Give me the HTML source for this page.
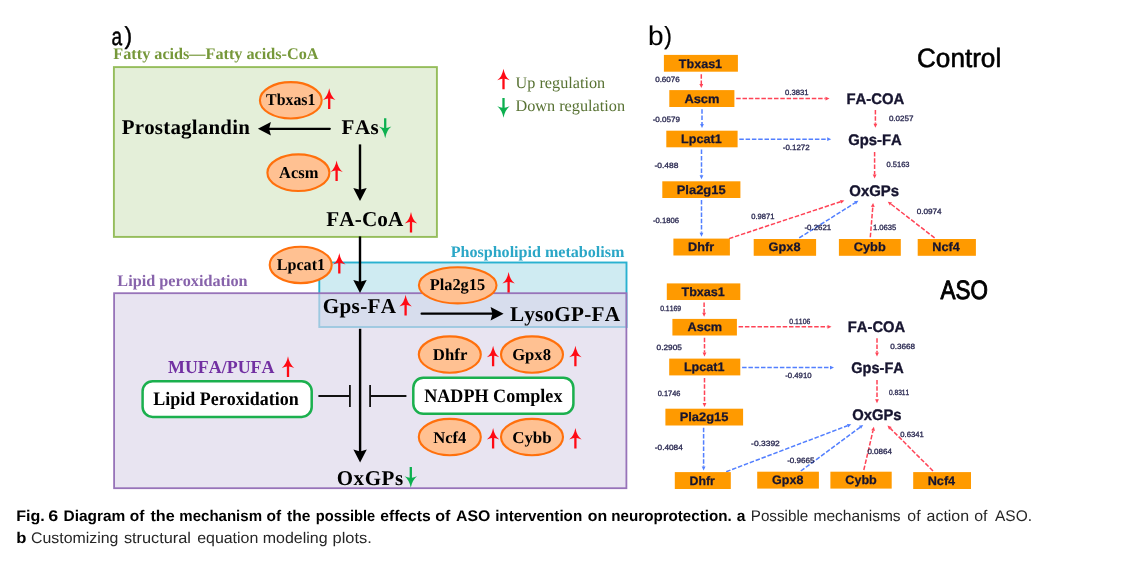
<!DOCTYPE html>
<html lang="en">
<head>
<meta charset="utf-8">
<title>Fig. 6 Diagram of the mechanism of the possible effects of ASO intervention on neuroprotection</title>
<style>
html,body{margin:0;padding:0;background:#fff;}
body{width:1145px;height:568px;overflow:hidden;}
svg{display:block;}
text{white-space:pre;font-kerning:none;font-variant-ligatures:none;text-rendering:geometricPrecision;}
</style>
</head>
<body>
<svg width="1145" height="568" viewBox="0 0 1145 568">
<defs><filter id="soft" x="0" y="0" width="1145" height="568" filterUnits="userSpaceOnUse" color-interpolation-filters="sRGB"><feGaussianBlur stdDeviation="0.5"/></filter></defs>
<g filter="url(#soft)">
<rect x="-5" y="-5" width="1155" height="578" fill="#ffffff"/>
<rect x="113.9" y="67.1" width="323.0" height="169.8" fill="#e4efd9" stroke="#95bd5b" stroke-width="1.9"/>
<rect x="319.3" y="262.5" width="307.2" height="64.5" fill="#cfebf2" stroke="#29b1d0" stroke-width="1.9"/>
<rect x="114.1" y="293.2" width="512.3" height="195.0" fill="#dcd5e9" fill-opacity="0.65" stroke="none"/>
<rect x="114.1" y="293.2" width="512.3" height="195.0" fill="none" stroke="#9773b9" stroke-width="1.8"/>
<text transform="translate(111.44 44.95) scale(0.7584 1)" font-family='"Liberation Sans", sans-serif' font-weight="normal" font-size="25.09" fill="#000" stroke="#000" stroke-width="0.5" stroke-linejoin="round">a</text><text transform="translate(124.38 43.53) scale(0.9357 1)" font-family='"Liberation Sans", sans-serif' font-weight="normal" font-size="24.6" fill="#000" stroke="#000" stroke-width="0.45" stroke-linejoin="round">)</text>
<text transform="translate(113.36 59.00) scale(1.0004 1)" font-family='"Liberation Serif", serif' font-weight="bold" font-size="16.2" fill="#76983a">Fatty acids—Fatty acids-CoA</text>
<text transform="translate(117.36 286.00) scale(1.0017 1)" font-family='"Liberation Serif", serif' font-weight="bold" font-size="16.2" fill="#8763ab">Lipid peroxidation</text>
<text transform="translate(450.66 256.80) scale(1.0049 1)" font-family='"Liberation Serif", serif' font-weight="bold" font-size="16" fill="#2ba7c7">Phospholipid metabolism</text>
<text transform="translate(168.03 372.80) scale(0.9846 1)" font-family='"Liberation Serif", serif' font-weight="bold" font-size="18.2" fill="#7230a2">MUFA/PUFA</text>
<text transform="translate(515.58 87.70) scale(1.0011 1)" font-family='"Liberation Serif", serif' font-weight="normal" font-size="16.2" fill="#587233">Up regulation</text>
<text transform="translate(515.41 110.80) scale(1.0037 1)" font-family='"Liberation Serif", serif' font-weight="normal" font-size="16.2" fill="#587233">Down regulation</text>
<line x1="329.8" y1="128.8" x2="268.3" y2="128.8" stroke="#000" stroke-width="2.2" stroke-linecap="round"/>
<path d="M257.9 128.8 L270.9 122.1 L269.1 128.8 L270.9 135.5 Z" fill="#000"/>
<line x1="360.0" y1="144.4" x2="360.0" y2="190.6" stroke="#000" stroke-width="2.4"/>
<path d="M360.0 201.0 L353.3 188.0 L360.0 189.8 L366.7 188.0 Z" fill="#000"/>
<line x1="360.0" y1="236.4" x2="360.0" y2="282.6" stroke="#000" stroke-width="2.4"/>
<path d="M360.0 293.0 L353.3 280.0 L360.0 281.8 L366.7 280.0 Z" fill="#000"/>
<line x1="421.6" y1="313.7" x2="493.2" y2="313.7" stroke="#000" stroke-width="2.2" stroke-linecap="round"/>
<path d="M503.6 313.7 L490.6 307.0 L492.4 313.7 L490.6 320.4 Z" fill="#000"/>
<line x1="360.1" y1="328.8" x2="360.1" y2="452.2" stroke="#000" stroke-width="2.4"/>
<path d="M360.1 462.6 L353.4 449.6 L360.1 451.4 L366.8 449.6 Z" fill="#000"/>
<path d="M318.4 396 H349.9 M349.9 385.1 V407.1 M370.1 385.1 V407.1 M370.1 396 H406.4" stroke="#111" stroke-width="1.8" fill="none"/>
<text x="121.69" y="133.50" letter-spacing="0.227" font-family='"Liberation Serif", serif' font-weight="bold" font-size="20.9" fill="#000">Prostaglandin</text>
<text x="341.58" y="133.50" letter-spacing="0.510" font-family='"Liberation Serif", serif' font-weight="bold" font-size="21" fill="#000">FAs</text>
<text x="326.28" y="225.80" letter-spacing="0.120" font-family='"Liberation Serif", serif' font-weight="bold" font-size="21.2" fill="#000">FA-CoA</text>
<text x="322.74" y="312.90" letter-spacing="0.300" font-family='"Liberation Serif", serif' font-weight="bold" font-size="21.2" fill="#000">Gps-FA</text>
<text x="509.88" y="320.80" letter-spacing="0.224" font-family='"Liberation Serif", serif' font-weight="bold" font-size="21.2" fill="#000">LysoGP-FA</text>
<text x="336.65" y="484.70" letter-spacing="0.579" font-family='"Liberation Serif", serif' font-weight="bold" font-size="21" fill="#000">OxGPs</text>
<rect x="142.6" y="381.3" width="169.1" height="35.6" rx="10" ry="10" fill="#fff" stroke="#1bb04e" stroke-width="2.5"/>
<rect x="413.3" y="377.8" width="160.1" height="36.0" rx="10" ry="10" fill="#fff" stroke="#1bb04e" stroke-width="2.5"/>
<text transform="translate(153.33 405.10) scale(0.9462 1)" font-family='"Liberation Serif", serif' font-weight="bold" font-size="19" fill="#000">Lipid Peroxidation</text>
<text transform="translate(424.24 402.20) scale(0.9523 1)" font-family='"Liberation Serif", serif' font-weight="bold" font-size="19" fill="#000">NADPH Complex</text>
<ellipse cx="290.8" cy="100.35" rx="30.9" ry="18.2" fill="#ffc192" stroke="#ff700c" stroke-width="2.1"/>
<text transform="translate(266.06 105.30) scale(0.9555 1)" font-family='"Liberation Serif", serif' font-weight="bold" font-size="16.6" fill="#000">Tbxas1</text>
<ellipse cx="298.4" cy="172.7" rx="31.0" ry="18.3" fill="#ffc192" stroke="#ff700c" stroke-width="2.1"/>
<text transform="translate(279.04 178.10) scale(0.9930 1)" font-family='"Liberation Serif", serif' font-weight="bold" font-size="16.6" fill="#000">Acsm</text>
<ellipse cx="300.7" cy="264.9" rx="31.0" ry="18.2" fill="#ffc192" stroke="#ff700c" stroke-width="2.1"/>
<text transform="translate(276.66 270.20) scale(0.9729 1)" font-family='"Liberation Serif", serif' font-weight="bold" font-size="16.6" fill="#000">Lpcat1</text>
<ellipse cx="457.7" cy="285.3" rx="38.8" ry="18.1" fill="#ffc192" stroke="#ff700c" stroke-width="2.1"/>
<text transform="translate(429.65 290.40) scale(0.9866 1)" font-family='"Liberation Serif", serif' font-weight="bold" font-size="16.6" fill="#000">Pla2g15</text>
<ellipse cx="449.8" cy="354.6" rx="31.0" ry="18.2" fill="#ffc192" stroke="#ff700c" stroke-width="2.1"/>
<text transform="translate(432.85 360.30) scale(1.0110 1)" font-family='"Liberation Serif", serif' font-weight="bold" font-size="16.6" fill="#000">Dhfr</text>
<ellipse cx="532.0" cy="354.6" rx="31.0" ry="18.2" fill="#ffc192" stroke="#ff700c" stroke-width="2.1"/>
<text transform="translate(512.17 360.30) scale(1.0013 1)" font-family='"Liberation Serif", serif' font-weight="bold" font-size="16.6" fill="#000">Gpx8</text>
<ellipse cx="449.8" cy="437.1" rx="31.0" ry="18.2" fill="#ffc192" stroke="#ff700c" stroke-width="2.1"/>
<text transform="translate(433.27 442.50) scale(0.9989 1)" font-family='"Liberation Serif", serif' font-weight="bold" font-size="16.6" fill="#000">Ncf4</text>
<ellipse cx="532.0" cy="437.1" rx="31.0" ry="18.2" fill="#ffc192" stroke="#ff700c" stroke-width="2.1"/>
<text transform="translate(512.15 442.50) scale(1.0219 1)" font-family='"Liberation Serif", serif' font-weight="bold" font-size="16.6" fill="#000">Cybb</text>
<path transform="translate(329.2 88.6)" d="M0 -0.3 Q1.4 7.6 6.2 11.3 Q3 10.1 1.15 9.8 L1.15 20.3 L-1.15 20.3 L-1.15 9.8 Q-3 10.1 -6.2 11.3 Q-1.4 7.6 0 -0.3 Z" fill="#ff0a14"/>
<path transform="translate(336.6 160.8)" d="M0 -0.3 Q1.4 7.6 6.2 11.3 Q3 10.1 1.15 9.8 L1.15 20.3 L-1.15 20.3 L-1.15 9.8 Q-3 10.1 -6.2 11.3 Q-1.4 7.6 0 -0.3 Z" fill="#ff0a14"/>
<path transform="translate(411.0 212.3)" d="M0 -0.3 Q1.4 7.6 6.2 11.3 Q3 10.1 1.15 9.8 L1.15 20.3 L-1.15 20.3 L-1.15 9.8 Q-3 10.1 -6.2 11.3 Q-1.4 7.6 0 -0.3 Z" fill="#ff0a14"/>
<path transform="translate(339.3 253.3)" d="M0 -0.3 Q1.4 7.6 6.2 11.3 Q3 10.1 1.15 9.8 L1.15 20.3 L-1.15 20.3 L-1.15 9.8 Q-3 10.1 -6.2 11.3 Q-1.4 7.6 0 -0.3 Z" fill="#ff0a14"/>
<path transform="translate(508.6 272.3)" d="M0 -0.3 Q1.4 7.6 6.2 11.3 Q3 10.1 1.15 9.8 L1.15 20.3 L-1.15 20.3 L-1.15 9.8 Q-3 10.1 -6.2 11.3 Q-1.4 7.6 0 -0.3 Z" fill="#ff0a14"/>
<path transform="translate(405.6 295.1)" d="M0 -0.3 Q1.4 7.6 6.2 11.3 Q3 10.1 1.15 9.8 L1.15 20.3 L-1.15 20.3 L-1.15 9.8 Q-3 10.1 -6.2 11.3 Q-1.4 7.6 0 -0.3 Z" fill="#ff0a14"/>
<path transform="translate(288.0 356.6)" d="M0 -0.3 Q1.4 7.6 6.2 11.3 Q3 10.1 1.15 9.8 L1.15 20.3 L-1.15 20.3 L-1.15 9.8 Q-3 10.1 -6.2 11.3 Q-1.4 7.6 0 -0.3 Z" fill="#ff0a14"/>
<path transform="translate(493.1 346.0)" d="M0 -0.3 Q1.4 7.6 6.2 11.3 Q3 10.1 1.15 9.8 L1.15 20.3 L-1.15 20.3 L-1.15 9.8 Q-3 10.1 -6.2 11.3 Q-1.4 7.6 0 -0.3 Z" fill="#ff0a14"/>
<path transform="translate(575.4 346.0)" d="M0 -0.3 Q1.4 7.6 6.2 11.3 Q3 10.1 1.15 9.8 L1.15 20.3 L-1.15 20.3 L-1.15 9.8 Q-3 10.1 -6.2 11.3 Q-1.4 7.6 0 -0.3 Z" fill="#ff0a14"/>
<path transform="translate(493.1 428.2)" d="M0 -0.3 Q1.4 7.6 6.2 11.3 Q3 10.1 1.15 9.8 L1.15 20.3 L-1.15 20.3 L-1.15 9.8 Q-3 10.1 -6.2 11.3 Q-1.4 7.6 0 -0.3 Z" fill="#ff0a14"/>
<path transform="translate(575.4 428.2)" d="M0 -0.3 Q1.4 7.6 6.2 11.3 Q3 10.1 1.15 9.8 L1.15 20.3 L-1.15 20.3 L-1.15 9.8 Q-3 10.1 -6.2 11.3 Q-1.4 7.6 0 -0.3 Z" fill="#ff0a14"/>
<path transform="translate(503.5 69.0)" d="M0 -0.3 Q1.4 7.6 6.2 11.3 Q3 10.1 1.15 9.8 L1.15 20.3 L-1.15 20.3 L-1.15 9.8 Q-3 10.1 -6.2 11.3 Q-1.4 7.6 0 -0.3 Z" fill="#ff0a14"/>
<path transform="translate(385.2 137.9) scale(1 -1)" d="M0 -0.3 Q1.4 7.6 6.2 11.3 Q3 10.1 1.15 9.8 L1.15 19.6 L-1.15 19.6 L-1.15 9.8 Q-3 10.1 -6.2 11.3 Q-1.4 7.6 0 -0.3 Z" fill="#0cb04f"/>
<path transform="translate(410.8 487.5) scale(1 -1)" d="M0 -0.3 Q1.4 7.6 6.2 11.3 Q3 10.1 1.15 9.8 L1.15 20.5 L-1.15 20.5 L-1.15 9.8 Q-3 10.1 -6.2 11.3 Q-1.4 7.6 0 -0.3 Z" fill="#0cb04f"/>
<path transform="translate(503.5 117.5) scale(1 -1)" d="M0 -0.3 Q1.4 7.6 6.2 11.3 Q3 10.1 1.15 9.8 L1.15 19.6 L-1.15 19.6 L-1.15 9.8 Q-3 10.1 -6.2 11.3 Q-1.4 7.6 0 -0.3 Z" fill="#0cb04f"/>
<text transform="translate(648.08 45.23) scale(1.0344 1)" font-family='"Liberation Sans", sans-serif' font-weight="normal" font-size="27.07" fill="#000" stroke="#000" stroke-width="0.12" stroke-linejoin="round">b</text><text transform="translate(664.18 43.59) scale(0.9278 1)" font-family='"Liberation Sans", sans-serif' font-weight="normal" font-size="24.81" fill="#000" stroke="#000" stroke-width="0.25" stroke-linejoin="round">)</text>
<text transform="translate(916.99 67.20) scale(0.9856 1)" font-family='"Liberation Sans", sans-serif' font-weight="normal" font-size="26.5" fill="#000" stroke="#000" stroke-width="0.6" stroke-linejoin="round">Control</text>
<text transform="translate(940.60 299.20) scale(0.8463 1)" font-family='"Liberation Sans", sans-serif' font-weight="normal" font-size="26.5" fill="#000" stroke="#000" stroke-width="0.95" stroke-linejoin="round">ASO</text>
<line x1="701.3" y1="74.2" x2="701.3" y2="84.1" stroke="#ff4356" stroke-width="1.5" stroke-dasharray="4.5 1.8"/>
<path d="M701.3 88.1 L699.4 84.1 L703.2 84.1 Z" fill="#ff4356"/>
<line x1="736.2" y1="98.6" x2="825.5" y2="98.6" stroke="#ff4356" stroke-width="1.5" stroke-dasharray="4.5 1.8"/>
<path d="M829.5 98.6 L825.5 100.5 L825.5 96.7 Z" fill="#ff4356"/>
<line x1="702.0" y1="109.3" x2="702.0" y2="124.1" stroke="#527fff" stroke-width="1.5" stroke-dasharray="4.5 1.8"/>
<path d="M702.0 128.1 L700.1 124.1 L703.9 124.1 Z" fill="#527fff"/>
<line x1="739.3" y1="139.2" x2="827.2" y2="139.2" stroke="#527fff" stroke-width="1.5" stroke-dasharray="4.5 1.8"/>
<path d="M831.2 139.2 L827.2 141.1 L827.2 137.3 Z" fill="#527fff"/>
<line x1="701.5" y1="149.6" x2="701.5" y2="175.2" stroke="#527fff" stroke-width="1.5" stroke-dasharray="4.5 1.8"/>
<path d="M701.5 179.2 L699.6 175.2 L703.4 175.2 Z" fill="#527fff"/>
<line x1="701.5" y1="199.9" x2="701.5" y2="232.7" stroke="#527fff" stroke-width="1.5" stroke-dasharray="4.5 1.8"/>
<path d="M701.5 236.7 L699.6 232.7 L703.4 232.7 Z" fill="#527fff"/>
<line x1="875.4" y1="109.9" x2="875.4" y2="123.7" stroke="#ff4356" stroke-width="1.5" stroke-dasharray="4.5 1.8"/>
<path d="M875.4 127.7 L873.5 123.7 L877.3 123.7 Z" fill="#ff4356"/>
<line x1="874.6" y1="152.0" x2="874.6" y2="174.5" stroke="#ff4356" stroke-width="1.5" stroke-dasharray="4.5 1.8"/>
<path d="M874.6 178.5 L872.7 174.5 L876.5 174.5 Z" fill="#ff4356"/>
<line x1="729.0" y1="238.6" x2="840.6" y2="201.7" stroke="#ff4356" stroke-width="1.5" stroke-dasharray="4.5 1.8"/>
<path d="M844.4 200.4 L841.2 203.5 L840.0 199.9 Z" fill="#ff4356"/>
<line x1="799.2" y1="237.9" x2="855.0" y2="202.9" stroke="#527fff" stroke-width="1.5" stroke-dasharray="4.5 1.8"/>
<path d="M858.4 200.7 L856.0 204.5 L854.0 201.3 Z" fill="#527fff"/>
<line x1="870.3" y1="237.2" x2="872.8" y2="206.9" stroke="#ff4356" stroke-width="1.5" stroke-dasharray="4.5 1.8"/>
<path d="M873.1 202.9 L874.7 207.0 L870.9 206.7 Z" fill="#ff4356"/>
<line x1="934.6" y1="237.9" x2="891.0" y2="204.1" stroke="#ff4356" stroke-width="1.5" stroke-dasharray="4.5 1.8"/>
<path d="M887.8 201.7 L892.1 202.6 L889.8 205.6 Z" fill="#ff4356"/>
<rect x="663.9" y="54.9" width="74.0" height="16.8" fill="#ff9a00"/>
<text transform="translate(678.87 67.55) scale(1.0195 1)" font-family='"Liberation Sans", sans-serif' font-weight="bold" font-size="12.3" fill="#16142f" stroke="#16142f" stroke-width="0.25" stroke-linejoin="round">Tbxas1</text>
<rect x="669.3" y="90.1" width="65.1" height="16.9" fill="#ff9a00"/>
<text transform="translate(684.38 103.15) scale(1.0460 1)" font-family='"Liberation Sans", sans-serif' font-weight="bold" font-size="12.3" fill="#16142f" stroke="#16142f" stroke-width="0.25" stroke-linejoin="round">Ascm</text>
<rect x="666.3" y="130.7" width="71.3" height="16.6" fill="#ff9a00"/>
<text transform="translate(681.08 142.65) scale(1.0260 1)" font-family='"Liberation Sans", sans-serif' font-weight="bold" font-size="12.3" fill="#16142f" stroke="#16142f" stroke-width="0.25" stroke-linejoin="round">Lpcat1</text>
<rect x="662.3" y="181.3" width="78.1" height="16.7" fill="#ff9a00"/>
<text transform="translate(676.76 193.75) scale(1.0502 1)" font-family='"Liberation Sans", sans-serif' font-weight="bold" font-size="12.3" fill="#16142f" stroke="#16142f" stroke-width="0.25" stroke-linejoin="round">Pla2g15</text>
<rect x="673.4" y="238.6" width="56.5" height="16.9" fill="#ff9a00"/>
<text transform="translate(688.08 251.25) scale(1.0291 1)" font-family='"Liberation Sans", sans-serif' font-weight="bold" font-size="12.3" fill="#16142f" stroke="#16142f" stroke-width="0.25" stroke-linejoin="round">Dhfr</text>
<rect x="753.7" y="239.0" width="62.4" height="16.8" fill="#ff9a00"/>
<text transform="translate(768.59 251.25) scale(1.0372 1)" font-family='"Liberation Sans", sans-serif' font-weight="bold" font-size="12.3" fill="#16142f" stroke="#16142f" stroke-width="0.25" stroke-linejoin="round">Gpx8</text>
<rect x="838.9" y="239.0" width="61.9" height="16.8" fill="#ff9a00"/>
<text transform="translate(853.79 251.25) scale(1.0369 1)" font-family='"Liberation Sans", sans-serif' font-weight="bold" font-size="12.3" fill="#16142f" stroke="#16142f" stroke-width="0.25" stroke-linejoin="round">Cybb</text>
<rect x="917.7" y="239.0" width="58.2" height="16.8" fill="#ff9a00"/>
<text transform="translate(932.27 251.25) scale(1.0323 1)" font-family='"Liberation Sans", sans-serif' font-weight="bold" font-size="12.3" fill="#16142f" stroke="#16142f" stroke-width="0.25" stroke-linejoin="round">Ncf4</text>
<text transform="translate(846.43 103.50) scale(0.9668 1)" font-family='"Liberation Sans", sans-serif' font-weight="bold" font-size="15.4" fill="#16142f" stroke="#16142f" stroke-width="0.35" stroke-linejoin="round">FA-COA</text>
<text transform="translate(848.21 145.40) scale(0.9617 1)" font-family='"Liberation Sans", sans-serif' font-weight="bold" font-size="15.4" fill="#16142f" stroke="#16142f" stroke-width="0.35" stroke-linejoin="round">Gps-FA</text>
<text transform="translate(849.30 195.50) scale(0.9695 1)" font-family='"Liberation Sans", sans-serif' font-weight="bold" font-size="15.4" fill="#16142f" stroke="#16142f" stroke-width="0.35" stroke-linejoin="round">OxGPs</text>
<text transform="translate(655.18 82.45) scale(1.0571 1)" font-family='"Liberation Sans", sans-serif' font-weight="normal" font-size="7.6" fill="#2b2a52" stroke="#2b2a52" stroke-width="0.32" stroke-linejoin="round">0.6076</text>
<text transform="translate(785.09 94.65) scale(1.0101 1)" font-family='"Liberation Sans", sans-serif' font-weight="normal" font-size="7.6" fill="#2b2a52" stroke="#2b2a52" stroke-width="0.32" stroke-linejoin="round">0.3831</text>
<text transform="translate(652.64 122.15) scale(1.0646 1)" font-family='"Liberation Sans", sans-serif' font-weight="normal" font-size="7.6" fill="#2b2a52" stroke="#2b2a52" stroke-width="0.32" stroke-linejoin="round">-0.0579</text>
<text transform="translate(782.74 149.85) scale(1.0462 1)" font-family='"Liberation Sans", sans-serif' font-weight="normal" font-size="7.6" fill="#2b2a52" stroke="#2b2a52" stroke-width="0.32" stroke-linejoin="round">-0.1272</text>
<text transform="translate(888.88 120.95) scale(1.0606 1)" font-family='"Liberation Sans", sans-serif' font-weight="normal" font-size="7.6" fill="#2b2a52" stroke="#2b2a52" stroke-width="0.32" stroke-linejoin="round">0.0257</text>
<text transform="translate(654.42 168.05) scale(1.1100 1)" font-family='"Liberation Sans", sans-serif' font-weight="normal" font-size="7.6" fill="#2b2a52" stroke="#2b2a52" stroke-width="0.32" stroke-linejoin="round">-0.488</text>
<text transform="translate(886.50 166.95) scale(0.9907 1)" font-family='"Liberation Sans", sans-serif' font-weight="normal" font-size="7.6" fill="#2b2a52" stroke="#2b2a52" stroke-width="0.32" stroke-linejoin="round">0.5163</text>
<text transform="translate(653.06 222.85) scale(1.0072 1)" font-family='"Liberation Sans", sans-serif' font-weight="normal" font-size="7.6" fill="#2b2a52" stroke="#2b2a52" stroke-width="0.32" stroke-linejoin="round">-0.1806</text>
<text transform="translate(751.20 218.85) scale(0.9968 1)" font-family='"Liberation Sans", sans-serif' font-weight="normal" font-size="7.6" fill="#2b2a52" stroke="#2b2a52" stroke-width="0.32" stroke-linejoin="round">0.9871</text>
<text transform="translate(804.45 230.05) scale(1.0367 1)" font-family='"Liberation Sans", sans-serif' font-weight="normal" font-size="7.6" fill="#2b2a52" stroke="#2b2a52" stroke-width="0.32" stroke-linejoin="round">-0.2621</text>
<text transform="translate(872.93 230.25) scale(1.0070 1)" font-family='"Liberation Sans", sans-serif' font-weight="normal" font-size="7.6" fill="#2b2a52" stroke="#2b2a52" stroke-width="0.32" stroke-linejoin="round">1.0635</text>
<text transform="translate(916.67 214.05) scale(1.0756 1)" font-family='"Liberation Sans", sans-serif' font-weight="normal" font-size="7.6" fill="#2b2a52" stroke="#2b2a52" stroke-width="0.32" stroke-linejoin="round">0.0974</text>
<line x1="704.1" y1="302.4" x2="704.1" y2="312.7" stroke="#ff4356" stroke-width="1.5" stroke-dasharray="4.5 1.8"/>
<path d="M704.1 316.7 L702.2 312.7 L706.0 312.7 Z" fill="#ff4356"/>
<line x1="738.6" y1="326.8" x2="827.5" y2="326.8" stroke="#ff4356" stroke-width="1.5" stroke-dasharray="4.5 1.8"/>
<path d="M831.5 326.8 L827.5 328.7 L827.5 324.9 Z" fill="#ff4356"/>
<line x1="704.5" y1="337.7" x2="704.5" y2="352.5" stroke="#ff4356" stroke-width="1.5" stroke-dasharray="4.5 1.8"/>
<path d="M704.5 356.5 L702.6 352.5 L706.4 352.5 Z" fill="#ff4356"/>
<line x1="742.1" y1="367.6" x2="830.0" y2="367.6" stroke="#527fff" stroke-width="1.5" stroke-dasharray="4.5 1.8"/>
<path d="M834.0 367.6 L830.0 369.5 L830.0 365.7 Z" fill="#527fff"/>
<line x1="704.5" y1="377.9" x2="704.5" y2="403.0" stroke="#ff4356" stroke-width="1.5" stroke-dasharray="4.5 1.8"/>
<path d="M704.5 407.0 L702.6 403.0 L706.4 403.0 Z" fill="#ff4356"/>
<line x1="703.6" y1="427.7" x2="703.6" y2="466.5" stroke="#527fff" stroke-width="1.5" stroke-dasharray="4.5 1.8"/>
<path d="M703.6 470.5 L701.7 466.5 L705.5 466.5 Z" fill="#527fff"/>
<line x1="877.0" y1="338.2" x2="877.0" y2="352.5" stroke="#ff4356" stroke-width="1.5" stroke-dasharray="4.5 1.8"/>
<path d="M877.0 356.5 L875.1 352.5 L878.9 352.5 Z" fill="#ff4356"/>
<line x1="877.0" y1="380.0" x2="877.0" y2="399.3" stroke="#ff4356" stroke-width="1.5" stroke-dasharray="4.5 1.8"/>
<path d="M877.0 403.3 L875.1 399.3 L878.9 399.3 Z" fill="#ff4356"/>
<line x1="726.2" y1="471.7" x2="847.5" y2="425.7" stroke="#527fff" stroke-width="1.5" stroke-dasharray="4.5 1.8"/>
<path d="M851.3 424.3 L848.2 427.5 L846.9 424.0 Z" fill="#527fff"/>
<line x1="800.8" y1="471.0" x2="860.0" y2="427.3" stroke="#527fff" stroke-width="1.5" stroke-dasharray="4.5 1.8"/>
<path d="M863.2 424.9 L861.1 428.8 L858.9 425.8 Z" fill="#527fff"/>
<line x1="863.8" y1="470.0" x2="873.0" y2="430.7" stroke="#ff4356" stroke-width="1.5" stroke-dasharray="4.5 1.8"/>
<path d="M873.9 426.8 L874.9 431.1 L871.2 430.3 Z" fill="#ff4356"/>
<line x1="933.0" y1="471.0" x2="890.4" y2="428.4" stroke="#ff4356" stroke-width="1.5" stroke-dasharray="4.5 1.8"/>
<path d="M887.5 425.5 L891.7 427.0 L889.0 429.7 Z" fill="#ff4356"/>
<rect x="666.8" y="283.4" width="73.5" height="16.6" fill="#ff9a00"/>
<text transform="translate(681.47 296.05) scale(1.0243 1)" font-family='"Liberation Sans", sans-serif' font-weight="bold" font-size="12.3" fill="#16142f" stroke="#16142f" stroke-width="0.25" stroke-linejoin="round">Tbxas1</text>
<rect x="672.4" y="318.9" width="64.5" height="16.6" fill="#ff9a00"/>
<text transform="translate(687.48 331.25) scale(1.0336 1)" font-family='"Liberation Sans", sans-serif' font-weight="bold" font-size="12.3" fill="#16142f" stroke="#16142f" stroke-width="0.25" stroke-linejoin="round">Ascm</text>
<rect x="669.2" y="358.6" width="71.1" height="16.8" fill="#ff9a00"/>
<text transform="translate(683.88 370.75) scale(1.0234 1)" font-family='"Liberation Sans", sans-serif' font-weight="bold" font-size="12.3" fill="#16142f" stroke="#16142f" stroke-width="0.25" stroke-linejoin="round">Lpcat1</text>
<rect x="665.4" y="408.7" width="77.7" height="16.8" fill="#ff9a00"/>
<text transform="translate(679.66 421.25) scale(1.0480 1)" font-family='"Liberation Sans", sans-serif' font-weight="bold" font-size="12.3" fill="#16142f" stroke="#16142f" stroke-width="0.25" stroke-linejoin="round">Pla2g15</text>
<rect x="674.8" y="472.1" width="56.0" height="16.9" fill="#ff9a00"/>
<text transform="translate(689.50 484.75) scale(1.0003 1)" font-family='"Liberation Sans", sans-serif' font-weight="bold" font-size="12.3" fill="#16142f" stroke="#16142f" stroke-width="0.25" stroke-linejoin="round">Dhfr</text>
<rect x="757.2" y="471.7" width="61.7" height="16.9" fill="#ff9a00"/>
<text transform="translate(772.10 483.85) scale(1.0171 1)" font-family='"Liberation Sans", sans-serif' font-weight="bold" font-size="12.3" fill="#16142f" stroke="#16142f" stroke-width="0.25" stroke-linejoin="round">Gpx8</text>
<rect x="830.4" y="471.7" width="61.3" height="16.9" fill="#ff9a00"/>
<text transform="translate(845.30 483.85) scale(1.0234 1)" font-family='"Liberation Sans", sans-serif' font-weight="bold" font-size="12.3" fill="#16142f" stroke="#16142f" stroke-width="0.25" stroke-linejoin="round">Cybb</text>
<rect x="913.2" y="472.1" width="57.8" height="16.9" fill="#ff9a00"/>
<text transform="translate(927.67 484.75) scale(1.0323 1)" font-family='"Liberation Sans", sans-serif' font-weight="bold" font-size="12.3" fill="#16142f" stroke="#16142f" stroke-width="0.25" stroke-linejoin="round">Ncf4</text>
<text transform="translate(847.84 331.60) scale(0.9582 1)" font-family='"Liberation Sans", sans-serif' font-weight="bold" font-size="15.4" fill="#16142f" stroke="#16142f" stroke-width="0.35" stroke-linejoin="round">FA-COA</text>
<text transform="translate(851.32 372.60) scale(0.9433 1)" font-family='"Liberation Sans", sans-serif' font-weight="bold" font-size="15.4" fill="#16142f" stroke="#16142f" stroke-width="0.35" stroke-linejoin="round">Gps-FA</text>
<text transform="translate(852.21 419.90) scale(0.9616 1)" font-family='"Liberation Sans", sans-serif' font-weight="bold" font-size="15.4" fill="#16142f" stroke="#16142f" stroke-width="0.35" stroke-linejoin="round">OxGPs</text>
<text transform="translate(660.13 311.25) scale(0.9038 1)" font-family='"Liberation Sans", sans-serif' font-weight="normal" font-size="7.6" fill="#2b2a52" stroke="#2b2a52" stroke-width="0.32" stroke-linejoin="round">0.1169</text>
<text transform="translate(789.33 323.65) scale(0.9023 1)" font-family='"Liberation Sans", sans-serif' font-weight="normal" font-size="7.6" fill="#2b2a52" stroke="#2b2a52" stroke-width="0.32" stroke-linejoin="round">0.1106</text>
<text transform="translate(656.57 350.25) scale(1.0880 1)" font-family='"Liberation Sans", sans-serif' font-weight="normal" font-size="7.6" fill="#2b2a52" stroke="#2b2a52" stroke-width="0.32" stroke-linejoin="round">0.2905</text>
<text transform="translate(785.25 377.75) scale(1.0216 1)" font-family='"Liberation Sans", sans-serif' font-weight="normal" font-size="7.6" fill="#2b2a52" stroke="#2b2a52" stroke-width="0.32" stroke-linejoin="round">-0.4910</text>
<text transform="translate(890.27 348.85) scale(1.0703 1)" font-family='"Liberation Sans", sans-serif' font-weight="normal" font-size="7.6" fill="#2b2a52" stroke="#2b2a52" stroke-width="0.32" stroke-linejoin="round">0.3668</text>
<text transform="translate(657.70 395.95) scale(0.9774 1)" font-family='"Liberation Sans", sans-serif' font-weight="normal" font-size="7.6" fill="#2b2a52" stroke="#2b2a52" stroke-width="0.32" stroke-linejoin="round">0.1746</text>
<text transform="translate(888.93 394.95) scale(0.8728 1)" font-family='"Liberation Sans", sans-serif' font-weight="normal" font-size="7.6" fill="#2b2a52" stroke="#2b2a52" stroke-width="0.32" stroke-linejoin="round">0.8311</text>
<text transform="translate(654.83 450.05) scale(1.0836 1)" font-family='"Liberation Sans", sans-serif' font-weight="normal" font-size="7.6" fill="#2b2a52" stroke="#2b2a52" stroke-width="0.32" stroke-linejoin="round">-0.4084</text>
<text transform="translate(751.12 446.05) scale(1.1141 1)" font-family='"Liberation Sans", sans-serif' font-weight="normal" font-size="7.6" fill="#2b2a52" stroke="#2b2a52" stroke-width="0.32" stroke-linejoin="round">-0.3392</text>
<text transform="translate(787.14 463.35) scale(1.0630 1)" font-family='"Liberation Sans", sans-serif' font-weight="normal" font-size="7.6" fill="#2b2a52" stroke="#2b2a52" stroke-width="0.32" stroke-linejoin="round">-0.9665</text>
<text transform="translate(867.38 454.25) scale(1.0579 1)" font-family='"Liberation Sans", sans-serif' font-weight="normal" font-size="7.6" fill="#2b2a52" stroke="#2b2a52" stroke-width="0.32" stroke-linejoin="round">0.0864</text>
<text transform="translate(900.29 437.35) scale(1.0101 1)" font-family='"Liberation Sans", sans-serif' font-weight="normal" font-size="7.6" fill="#2b2a52" stroke="#2b2a52" stroke-width="0.32" stroke-linejoin="round">0.6341</text>
<text y="521.10" font-family='"Liberation Sans", sans-serif' font-size="15.4"><tspan x="16.26" textLength="28.57" lengthAdjust="spacingAndGlyphs" font-weight="bold" fill="#000">Fig.</tspan> <tspan x="48.17" textLength="9.96" lengthAdjust="spacingAndGlyphs" font-weight="bold" fill="#000">6</tspan> <tspan x="63.50" textLength="61.83" lengthAdjust="spacingAndGlyphs" font-weight="bold" fill="#000">Diagram</tspan> <tspan x="129.88" textLength="14.62" lengthAdjust="spacingAndGlyphs" font-weight="bold" fill="#000">of</tspan> <tspan x="150.44" textLength="24.33" lengthAdjust="spacingAndGlyphs" font-weight="bold" fill="#000">the</tspan> <tspan x="179.32" textLength="82.68" lengthAdjust="spacingAndGlyphs" font-weight="bold" fill="#000">mechanism</tspan> <tspan x="266.58" textLength="14.62" lengthAdjust="spacingAndGlyphs" font-weight="bold" fill="#000">of</tspan> <tspan x="287.14" textLength="23.40" lengthAdjust="spacingAndGlyphs" font-weight="bold" fill="#000">the</tspan> <tspan x="315.75" textLength="59.47" lengthAdjust="spacingAndGlyphs" font-weight="bold" fill="#000">possible</tspan> <tspan x="380.17" textLength="50.66" lengthAdjust="spacingAndGlyphs" font-weight="bold" fill="#000">effects</tspan> <tspan x="435.16" textLength="15.14" lengthAdjust="spacingAndGlyphs" font-weight="bold" fill="#000">of</tspan> <tspan x="456.00" textLength="34.31" lengthAdjust="spacingAndGlyphs" font-weight="bold" fill="#000">ASO</tspan> <tspan x="495.14" textLength="87.08" lengthAdjust="spacingAndGlyphs" font-weight="bold" fill="#000">intervention</tspan> <tspan x="587.76" textLength="19.39" lengthAdjust="spacingAndGlyphs" font-weight="bold" fill="#000">on</tspan> <tspan x="611.32" textLength="120.34" lengthAdjust="spacingAndGlyphs" font-weight="bold" fill="#000">neuroprotection.</tspan> <tspan x="736.73" textLength="8.71" lengthAdjust="spacingAndGlyphs" font-weight="bold" fill="#000">a</tspan> <tspan x="750.78" textLength="57.51" lengthAdjust="spacingAndGlyphs" font-weight="normal" fill="#262626">Possible</tspan> <tspan x="813.49" textLength="87.15" lengthAdjust="spacingAndGlyphs" font-weight="normal" fill="#262626">mechanisms</tspan> <tspan x="907.37" textLength="13.23" lengthAdjust="spacingAndGlyphs" font-weight="normal" fill="#262626">of</tspan> <tspan x="926.56" textLength="42.58" lengthAdjust="spacingAndGlyphs" font-weight="normal" fill="#262626">action</tspan> <tspan x="974.27" textLength="13.23" lengthAdjust="spacingAndGlyphs" font-weight="normal" fill="#262626">of</tspan> <tspan x="995.00" textLength="36.97" lengthAdjust="spacingAndGlyphs" font-weight="normal" fill="#262626">ASO.</tspan></text>
<text y="543.00" font-family='"Liberation Sans", sans-serif' font-size="15.4"><tspan x="16.22" textLength="10.15" lengthAdjust="spacingAndGlyphs" font-weight="bold" fill="#000">b</tspan> <tspan x="31.00" textLength="87.43" lengthAdjust="spacingAndGlyphs" font-weight="normal" fill="#262626">Customizing</tspan> <tspan x="123.91" textLength="67.05" lengthAdjust="spacingAndGlyphs" font-weight="normal" fill="#262626">structural</tspan> <tspan x="197.16" textLength="61.18" lengthAdjust="spacingAndGlyphs" font-weight="normal" fill="#262626">equation</tspan> <tspan x="262.76" textLength="64.88" lengthAdjust="spacingAndGlyphs" font-weight="normal" fill="#262626">modeling</tspan> <tspan x="332.53" textLength="39.33" lengthAdjust="spacingAndGlyphs" font-weight="normal" fill="#262626">plots.</tspan></text>
</g>
</svg>
</body>
</html>
